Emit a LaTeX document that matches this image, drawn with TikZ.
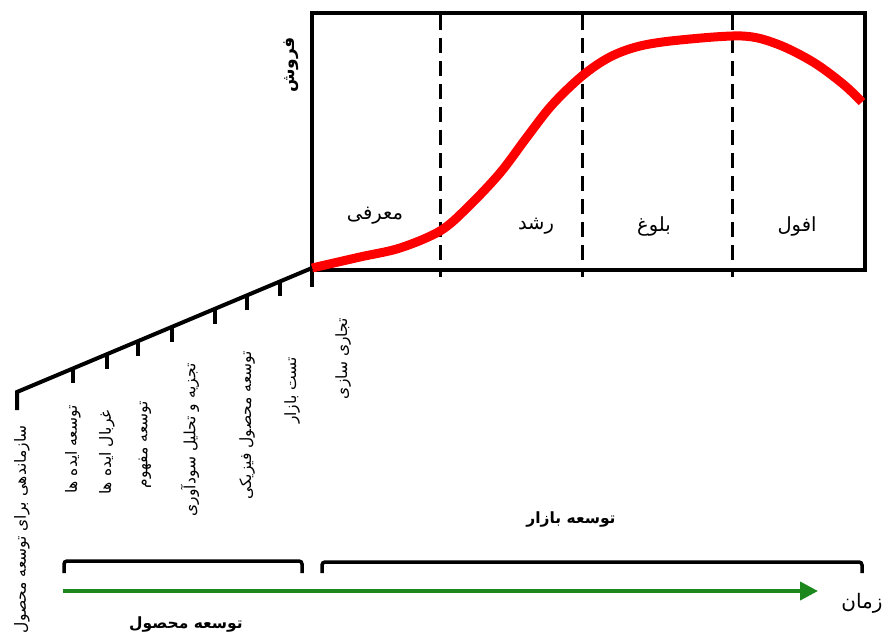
\documentclass[tikz,border=0pt]{standalone}
\usepackage{fontspec}
\TeXXeTstate=1
\newfontfamily\arabicfont[Script=Arabic]{DejaVu Sans}
\usetikzlibrary{arrows.meta}
\definecolor{curvered}{RGB}{255,0,0}
\definecolor{arrowgreen}{RGB}{28,135,28}
\begin{document}
\begin{tikzpicture}[x=1pt,y=-1pt,
  boxline/.style={line width=4pt, black},
  dashline/.style={line width=3pt, black, dash pattern=on 15pt off 8pt},
  lifeline/.style={line width=4pt, black, line cap=butt},
  tickline/.style={line width=4pt, black},
  salescurve/.style={line width=9pt, curvered, line cap=butt, line join=round},
  bracketline/.style={line width=3.5pt, black, rounded corners=3pt},
  timearrow/.style={line width=4pt, arrowgreen, -{Triangle[length=18pt,width=18pt]}},
  stagelbl/.style={font=\arabicfont\fontsize{19.5}{22}\selectfont, inner sep=0pt},
  steplbl/.style={font=\arabicfont\fontsize{15.5}{18}\selectfont, rotate=90, anchor=east, inner sep=0pt},
  titlelbl/.style={font=\arabicfont\bfseries\fontsize{15.5}{18}\selectfont, inner sep=0pt},
  axislbl/.style={font=\arabicfont\fontsize{20}{22}\selectfont, inner sep=0pt}
]
\useasboundingbox (0,0) rectangle (891,637);

% chart box
\coordinate (boxTL) at (312,13);
\coordinate (boxBR) at (865,270);
\coordinate (boxBL) at (312,270);
\coordinate (boxLow) at (312,287);
\draw[boxline] (boxTL) rectangle (boxBR);
\draw[boxline] (boxBL) -- (boxLow);

% phase separators
\foreach \n/\x in {d1/440, d2/582, d3/732}{
  \coordinate (\n top) at (\x,15);
  \coordinate (\n bot) at (\x,277);
  \draw[dashline] (\n top) -- (\n bot);
}

% axis label
\node[font=\arabicfont\bfseries\fontsize{17}{19}\selectfont, rotate=90, inner sep=0pt] (sales) at (291,65) {\beginR فروش\endR};

% stage labels
\node[stagelbl] (intro) at (375,216) {\beginR معرفی\endR};
\node[stagelbl] (growth) at (536,226) {\beginR رشد\endR};
\node[stagelbl] (maturity) at (654,226) {\beginR بلوغ\endR};
\node[stagelbl] (decline) at (797,226) {\beginR افول\endR};

% sales curve
\draw[salescurve] plot[smooth, tension=0.55] coordinates {
  (312,268) (360,257) (400,248) (440,231) (467,208) (500,173) (527,137)
  (552,105) (582,76) (610,57) (640,46) (680,40) (742,36) (777,44) (813,62) (843,84) (862,102)};

% development line
\coordinate (s0) at (17,410);
\coordinate (s1) at (17,392);
\coordinate (s2) at (312,268);
\draw[lifeline] (s0) -- (s1) -- (s2);
\foreach \x in {73,107,138,172,215,247,280}{
  \pgfmathsetmacro{\yy}{392-(\x-17)*0.42034}
  \coordinate (t\x) at (\x,\yy);
  \coordinate (b\x) at (\x,\yy+15);
  \draw[tickline] (t\x) -- (b\x);
}

% step labels
\node[steplbl] (st1) at (22,425) {\beginR سازماندهی برای توسعه محصول\endR};
\node[steplbl] (st2) at (73,405) {\beginR توسعه ایده ها\endR};
\node[steplbl] (st3) at (107,410) {\beginR غربال ایده ها\endR};
\node[steplbl] (st4) at (145,401) {\beginR توسعه مفهوم\endR};
\node[steplbl] (st5) at (190,363) {\beginR تجزیه و تحلیل سودآوری\endR};
\node[steplbl] (st6) at (247,351) {\beginR توسعه محصول فیزیکی\endR};
\node[steplbl] (st7) at (292,357) {\beginR تست بازار\endR};
\node[steplbl] (st8) at (343,318) {\beginR تجاری سازی\endR};

% brackets
\coordinate (lb1) at (64,573);
\coordinate (lb2) at (64,561);
\coordinate (lb3) at (302,561);
\coordinate (lb4) at (302,573);
\draw[bracketline] (lb1) -- (lb2) -- (lb3) -- (lb4);
\coordinate (rb1) at (322,573);
\coordinate (rb2) at (322,562);
\coordinate (rb3) at (862,562);
\coordinate (rb4) at (862,573);
\draw[bracketline] (rb1) -- (rb2) -- (rb3) -- (rb4);

\node[titlelbl] (market) at (571,519) {\beginR توسعه بازار\endR};
\node[titlelbl] (product) at (186,624) {\beginR توسعه محصول\endR};

% time arrow
\coordinate (a0) at (63,591);
\coordinate (a1) at (818,591);
\draw[timearrow] (a0) -- (a1);
\node[axislbl] (time) at (862,603) {\beginR زمان\endR};
\end{tikzpicture}
\end{document}
